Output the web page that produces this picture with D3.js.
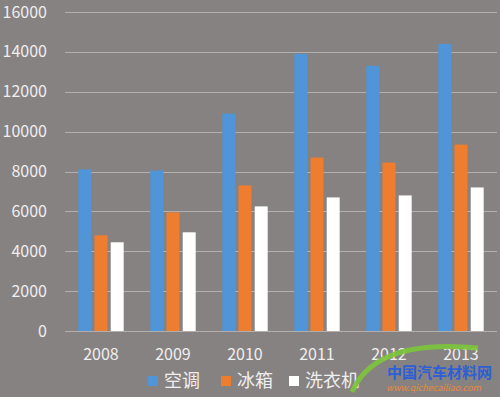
<!DOCTYPE html>
<html>
<head>
<meta charset="utf-8">
<script src="https://cdn.jsdelivr.net/npm/d3@7"></script>
<style>
  body { margin: 0; background: #868282; }
  svg { display: block; }
  text { font-family: "Noto Sans CJK SC", "Open Sans", sans-serif; fill: #f0eeee; }
</style>
</head>
<body>
<div id="chart"></div>
<script>
// data
var years = ['2008', '2009', '2010', '2011', '2012', '2013'];
var seriesNames = ['空调', '冰箱', '洗衣机'];
var airCon = [8100, 8050, 10900, 13900, 13300, 14400];
var fridge = [4800, 5950, 7300, 8700, 8450, 9350];
var washer = [4450, 4950, 6250, 6700, 6800, 7200];
var yTicks = [0, 2000, 4000, 6000, 8000, 10000, 12000, 14000, 16000];

var colors = ['#4f95d8', '#ee7d2e', '#ffffff'];

var width = 500;
var height = 397;
var margin = { top: 12, right: 3, bottom: 66, left: 65 };

var svg = d3.select('#chart')
  .append('svg')
  .attr('width', width)
  .attr('height', height);

svg.append('rect')
  .attr('width', width)
  .attr('height', height)
  .attr('fill', '#868282');

// build rows for each year
var rows = years.map(function (y, i) {
  return { year: y, values: [airCon[i], fridge[i], washer[i]] };
});

var x0 = d3.scaleBand()
  .domain(years)
  .range([margin.left, width - margin.right])
  .paddingInner(0.37)
  .paddingOuter(0.185);

var x1 = d3.scaleBand()
  .domain(d3.range(seriesNames.length))
  .range([0, x0.bandwidth()])
  .paddingInner(0.2)
  .paddingOuter(0);

var y = d3.scaleLinear()
  .domain([0, 16000])
  .range([height - margin.bottom, margin.top]);

// gridlines
svg.append('g')
  .selectAll('line')
  .data(yTicks)
  .enter().append('line')
  .attr('x1', margin.left)
  .attr('x2', width - margin.right)
  .attr('y1', function (d) { return Math.round(y(d)) + 0.5; })
  .attr('y2', function (d) { return Math.round(y(d)) + 0.5; })
  .attr('stroke', '#b3afaf')
  .attr('stroke-width', 1);

// y labels
svg.append('g')
  .selectAll('text')
  .data(yTicks)
  .enter().append('text')
  .attr('x', 47)
  .attr('y', function (d) { return y(d); })
  .attr('dy', '0.35em')
  .attr('text-anchor', 'end')
  .style('font-size', '16px')
  .text(function (d) { return d; });

// bars
var groups = svg.append('g')
  .selectAll('g')
  .data(rows)
  .enter().append('g')
  .attr('transform', function (d) { return 'translate(' + x0(d.year) + ',0)'; });

groups.selectAll('rect')
  .data(function (d) { return d.values; })
  .enter().append('rect')
  .attr('x', function (d, i) { return x1(i); })
  .attr('y', function (d) { return y(d); })
  .attr('width', x1.bandwidth())
  .attr('height', function (d) { return y(0) - y(d); })
  .attr('fill', function (d, i) { return colors[i]; });

// x labels
svg.append('g')
  .selectAll('text')
  .data(years)
  .enter().append('text')
  .attr('x', function (d) { return x0(d) + x0.bandwidth() / 2; })
  .attr('y', 354)
  .attr('dy', '0.35em')
  .attr('text-anchor', 'middle')
  .style('font-size', '16px')
  .text(function (d) { return d; });

// legend
var legendX = [148, 221, 289];
var legend = svg.append('g')
  .selectAll('g')
  .data(seriesNames)
  .enter().append('g')
  .attr('transform', function (d, i) { return 'translate(' + legendX[i] + ',381)'; });

legend.append('rect')
  .attr('x', 0)
  .attr('y', -5)
  .attr('width', 10)
  .attr('height', 10)
  .attr('fill', function (d, i) { return colors[i]; });

legend.append('text')
  .attr('x', 16)
  .attr('dy', '0.35em')
  .style('font-size', '18px')
  .text(function (d) { return d; });

// watermark in the corner
var wm = svg.append('g');
wm.append('path')
  .attr('d', 'M352,392 Q375,338 478,348')
  .attr('fill', 'none')
  .attr('stroke', '#7cc63a')
  .attr('stroke-width', 5)
  .attr('opacity', 0.9);
wm.append('text')
  .attr('x', 387)
  .attr('y', 378)
  .style('font-size', '15px')
  .style('font-weight', 'bold')
  .style('fill', '#2d5fd6')
  .text('中国汽车材料网');
wm.append('text')
  .attr('x', 386)
  .attr('y', 391)
  .style('font-size', '9px')
  .style('font-style', 'italic')
  .style('fill', '#e8893a')
  .text('www.qichecailiao.com');
</script>
</body>
</html>
